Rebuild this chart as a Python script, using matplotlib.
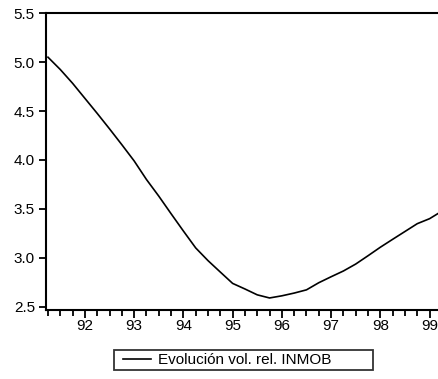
import matplotlib
matplotlib.use("Agg")
import matplotlib.pyplot as plt
from matplotlib.ticker import MultipleLocator, FixedLocator, FuncFormatter
from matplotlib.legend_handler import HandlerLine2D
import numpy as np

# quarterly series 1991Q2 - 1999Q2
start_year = 1991.25
values = [
    5.051, 4.925, 4.784, 4.630, 4.476, 4.318, 4.156, 3.990,
    3.800, 3.630, 3.450, 3.273, 3.100, 2.970, 2.853, 2.737,
    2.680, 2.620, 2.588, 2.610, 2.638, 2.671, 2.744, 2.805,
    2.864, 2.935, 3.020, 3.107, 3.188, 3.268, 3.348, 3.399,
    3.476,
]
year_ticks = [1992, 1993, 1994, 1995, 1996, 1997, 1998, 1999]
year_labels = ["92", "93", "94", "95", "96", "97", "98", "99"]
label = "Evolución vol. rel. INMOB"

t = start_year + 0.25 * np.arange(len(values))

plt.rcParams["font.family"] = ["Liberation Sans", "DejaVu Sans"]

fig = plt.figure(figsize=(4.38, 3.79), dpi=100)
W, H = 438, 379
ax = fig.add_axes([46 / W, (H - 309.5) / H, 1.0, (309.5 - 13.3) / H])

line, = ax.plot(t, values, color="black", lw=1.2)

# one year is ~49.2 px, axes run past the right edge of the figure
ax.set_xlim(1991.21, 1991.21 + W / 49.24)
ax.set_ylim(2.47, 5.5)

ax.xaxis.set_major_locator(FixedLocator(year_ticks))
ax.set_xticklabels(year_labels)
ax.xaxis.set_minor_locator(MultipleLocator(0.25))
ax.yaxis.set_major_locator(MultipleLocator(0.5))
ax.yaxis.set_major_formatter(FuncFormatter(lambda v, p: f"{v:.1f}"))

for side in ["left", "top", "bottom"]:
    ax.spines[side].set_linewidth(1.5)
ax.spines["right"].set_visible(False)

ax.tick_params(axis="y", direction="out", length=5, width=1.3, labelsize=11, pad=3)
ax.tick_params(axis="x", which="major", direction="out", length=6, width=1.3,
               labelsize=11, pad=1)
ax.tick_params(axis="x", which="minor", direction="out", length=4, width=1.3)

# legend box stretched to the reference width, handle pushed in a bit
leg = fig.legend([line], [label], loc="center",
                 bbox_to_anchor=(114 / W, (H - 370) / H, 259 / W, 19.3 / H),
                 mode="expand", fontsize=11, frameon=True, fancybox=False,
                 handlelength=2.2, handletextpad=0.45, borderpad=0.2,
                 borderaxespad=0.0,
                 handler_map={line: HandlerLine2D(xpad=0.36)})
leg.get_frame().set_edgecolor("black")
leg.get_frame().set_linewidth(1.3)

fig.savefig("out.png", dpi=100)
